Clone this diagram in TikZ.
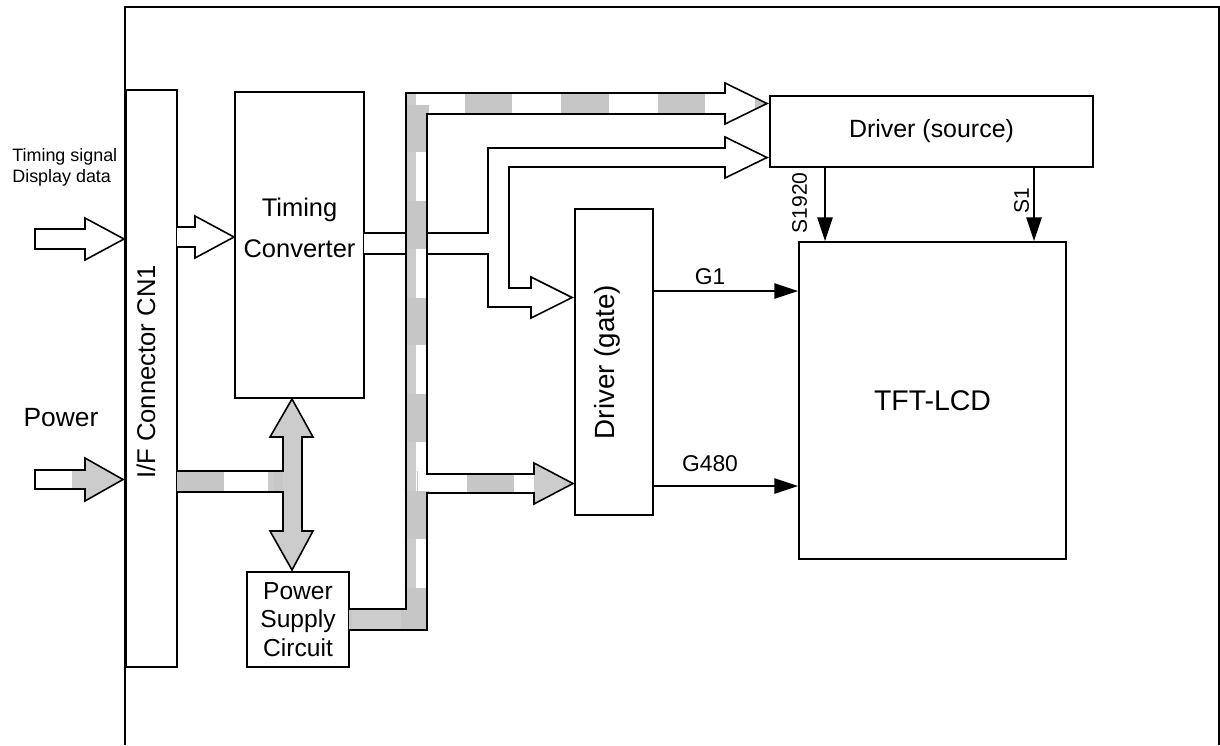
\documentclass[tikz,border=0pt]{standalone}
\usepackage{fontspec}
\setmainfont{Liberation Sans}
\usetikzlibrary{arrows.meta}

% outline of the gray power bus (pixel coordinates)
\def\pwrpath{(349,609) -- (406,609) -- (406,93) -- (725,93) -- (725,83) -- (767,103.5) -- (725,124) -- (725,114) -- (427,114) -- (427,474) -- (534,474) -- (534,463) -- (573,483.5) -- (534,504) -- (534,493) -- (427,493) -- (427,630) -- (349,630)}
\def\pinpath{(177,471) -- (283,471) -- (283,437) -- (270,437) -- (292,399) -- (313,437) -- (302,437) -- (302,531) -- (313,531) -- (292,570) -- (270,531) -- (283,531) -- (283,492) -- (177,492)}
\def\pwrarrow{(35,470) -- (85,470) -- (85,458) -- (123,479.5) -- (85,501) -- (85,489) -- (35,489) -- cycle}

\begin{document}
\begin{tikzpicture}[x=0.02cm, y=-0.02cm,
	box/.style={draw, line width=0.9pt, inner sep=0pt},
	lbl/.style={inner sep=0pt, align=center},
	hollow/.style={draw, fill=white, line width=0.9pt, line join=miter},
	busline/.style={line width=0.9pt, line join=miter},
	shade/.style={draw=gray!45, line width=14pt, dash pattern=on 27pt off 28pt},
	sig/.style={line width=1.6pt, -{Triangle[length=0.48cm, width=0.3cm]}}]
		%%%%% START %%%%%
		
		\useasboundingbox (0,0) rectangle (1220,745);
		
		\draw[line width=1.1pt] (125,745) -- (125,7) -- (1219,7) -- (1219,745);
		
		\node[box, minimum width=1.02cm, minimum height=11.54cm] (cn1) at (151.5,378.5) {};
		\node[box, minimum width=2.58cm, minimum height=6.12cm] (tc) at (299.5,245) {};
		\node[box, minimum width=2.04cm, minimum height=1.9cm, font=\fontsize{14}{16.4}\selectfont, align=center] (psc) at (298,619.5) {Power\\Supply\\Circuit};
		\node[box, minimum width=6.46cm, minimum height=1.42cm, font=\fontsize{14.2}{17}\selectfont] (src) at (931.5,131.5) {Driver (source)};
		\node[box, minimum width=1.56cm, minimum height=6.12cm] (gd) at (614,362) {};
		\node[box, minimum width=5.34cm, minimum height=6.34cm, font=\fontsize{16.2}{19}\selectfont] (tft) at (932.5,400.5) {TFT-LCD};
		
		\node[lbl, rotate=90, font=\fontsize{14.6}{17}\selectfont] (cn1txt) at (146,372) {I/F Connector CN1};
		\node[lbl, font=\fontsize{14.5}{23}\selectfont] (tctxt) at (299.5,228) {Timing\\Converter};
		\node[lbl, rotate=90, font=\fontsize{15.8}{18}\selectfont] (gdtxt) at (607,362) {Driver (gate)};
		
		\node[lbl, anchor=west, align=left, font=\fontsize{10.2}{12}\selectfont] (insig) at (12,167) {Timing signal\\Display data};
		\node[lbl, font=\fontsize{15}{18}\selectfont] (inpwr) at (61,417.5) {Power};
		
		% data arrows
		\draw[hollow] (35,229) -- (85,229) -- (85,218) -- (124,239) -- (85,260) -- (85,249) -- (35,249) -- cycle;
		\draw[hollow] (177,227) -- (195,227) -- (195,216) -- (234,237) -- (195,258) -- (195,247) -- (177,247);
		\draw[hollow] (364,233) -- (488,233) -- (488,148) -- (725,148) -- (725,137) -- (767,157.5) -- (725,178) -- (725,167) -- (509,167) -- (509,288) -- (531,288) -- (531,277) -- (572,297.5) -- (531,318) -- (531,307) -- (488,307) -- (488,254) -- (364,254);
		
		% power
		\fill[white] \pwrpath -- cycle;
		\begin{scope}
			\clip \pwrpath -- cycle;
			\fill[gray!40] (406,93) rectangle (416,630);
			\fill[gray!40] (349,609) rectangle (427,630);
			\fill[gray!40] (534,455) rectangle (575,510);
			\draw[shade, dash phase=25.5pt] (349,619.5) -- (416.5,619.5) -- (416.5,103.5) -- (770,103.5);
			\draw[shade, dash phase=26.4pt] (416.5,483.5) -- (575,483.5);
		\end{scope}
		\draw[busline] \pwrpath;
		
		\fill[white] \pinpath -- cycle;
		\begin{scope}
			\clip \pinpath -- cycle;
			\fill[gray!40] (268,395) rectangle (315,572);
			\draw[shade] (177,481.5) -- (283,481.5);
		\end{scope}
		\draw[busline] \pinpath;
		
		\fill[white] \pwrarrow;
		\begin{scope}
			\clip \pwrarrow;
			\fill[gray!40] (72,450) rectangle (125,505);
		\end{scope}
		\draw[busline] \pwrarrow;
		
		% gate and source lines
		\coordinate (g1) at (653,291);
		\coordinate (g480) at (653,486);
		\coordinate (s1920) at (825,0);
		\coordinate (s1) at (1034,0);
		\draw[sig] (g1) -- (g1 -| tft.west);
		\draw[sig] (g480) -- (g480 -| tft.west);
		\draw[sig] (src.south -| s1920) -- (tft.north -| s1920);
		\draw[sig] (src.south -| s1) -- (tft.north -| s1);
		
		\node[lbl, font=\fontsize{13}{15}\selectfont] (lg1) at (710,277) {G1};
		\node[lbl, font=\fontsize{13}{15}\selectfont] (lg480) at (710,463.5) {G480};
		\node[lbl, rotate=90, font=\fontsize{12}{14}\selectfont] (ls1920) at (799.5,203) {S1920};
		\node[lbl, rotate=90, font=\fontsize{12}{14}\selectfont] (ls1) at (1021.5,201) {S1};
		
		%%%%% END %%%%%
\end{tikzpicture}
\end{document}
